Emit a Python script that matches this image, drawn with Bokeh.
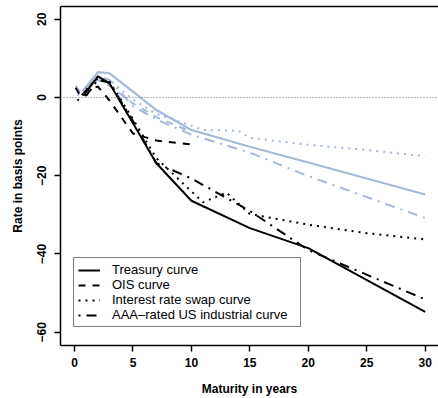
from bokeh.plotting import figure
from bokeh.models import LinearAxis, FixedTicker, Span, Legend, LegendItem, Range1d
from bokeh.embed import file_html
from bokeh.resources import INLINE

# ---- data ----
mat_tsy = [0.75, 2, 3, 5, 7, 10, 15, 20, 30]
tsy_black = [0.5, 5.4, 3.6, -6.6, -16.8, -26.4, -33.4, -38.5, -54.8]
tsy_blue = [1.8, 6.5, 6.2, 1.5, -3.2, -8.3, -12.6, -16.6, -24.8]

mat_ois = [0.1, 0.5, 1, 2, 3, 5, 7, 10]
ois_black = [2.5, 0.3, 1.8, 2.8, -0.8, -9.2, -11.0, -12.0]
ois_blue = [3.0, 1.0, 2.8, 4.5, 3.0, -1.5, -5.0, -8.8]

mat_swp_black = [0.25, 1, 2, 3, 5, 7, 10, 11, 13, 15, 20, 25, 30]
swp_black = [-0.8, 2.0, 5.0, 4.0, -5.5, -15.5, -24.0, -26.8, -24.3, -29.8, -32.5, -34.7, -36.3]
mat_swp_blue = [0.25, 1, 2, 3, 5, 7, 10, 11, 14, 15, 20, 25, 30]
swp_blue = [0.5, 2.5, 5.0, 4.5, -0.5, -4.2, -7.2, -8.3, -8.5, -10.3, -12.1, -13.4, -15.0]

mat_aaa = [0.25, 1, 2, 3, 5, 7, 10, 15, 20, 30]
aaa_black = [1.5, 0.5, 4.5, 3.8, -6.0, -16.8, -20.7, -29.0, -39.0, -51.6]
aaa_blue = [2.0, 2.5, 5.5, 4.5, -2.2, -5.6, -9.5, -14.1, -20.1, -30.8]

x_ticks = [0, 5, 10, 15, 20, 25, 30]
y_ticks = [-60, -40, -20, 0, 20]
y_tick_labels = {-60: "\u221260", -40: "\u221240", -20: "\u221220", 0: "0", 20: "20"}
legend_labels = ["Treasury curve", "OIS curve", "Interest rate swap curve",
                 "AAA\u2013rated US industrial curve"]

BLUE = "#a4b8d8"
FONT = "Liberation Sans"

p = figure(width=438, height=398, output_backend="svg", toolbar_location=None,
           x_range=Range1d(-1.2, 31.14), y_range=Range1d(-63.4, 23.27),
           min_border_left=60, min_border_right=0, min_border_top=6, min_border_bottom=52,
           x_axis_location=None, y_axis_location=None)
p.grid.visible = False
p.outline_line_color = None
p.background_fill_color = "white"
p.border_fill_color = "white"

# axes
xa = LinearAxis(ticker=FixedTicker(ticks=x_ticks), axis_label="Maturity in years")
ya = LinearAxis(ticker=FixedTicker(ticks=y_ticks), axis_label="Rate in basis points",
                major_label_overrides=y_tick_labels)
for ax in (xa, ya):
    ax.axis_line_color = "black"
    ax.axis_line_width = 1.5
    ax.major_tick_line_color = "black"
    ax.major_tick_line_width = 1.5
    ax.major_tick_out = 6
    ax.major_tick_in = 0
    ax.minor_tick_line_color = None
    ax.major_label_text_font = FONT
    ax.major_label_text_font_style = "bold"
    ax.major_label_text_font_size = "12px"
    ax.major_label_text_color = "black"
    ax.axis_label_text_font = FONT
    ax.axis_label_text_font_style = "bold"
    ax.axis_label_text_font_size = "12px"
    ax.axis_label_text_color = "black"
xa.major_label_standoff = 6
xa.axis_label_standoff = 12
ya.major_label_standoff = 8
ya.axis_label_standoff = 10
ya.major_label_orientation = "vertical"
p.add_layout(xa, "below")
p.add_layout(ya, "left")

top = LinearAxis(ticker=FixedTicker(ticks=[]), major_tick_out=0, major_tick_in=0,
                 major_label_standoff=0, major_label_text_font_size="0px",
                 minor_tick_line_color=None, axis_line_color="black", axis_line_width=1.5)
p.add_layout(top, "above")

# zero line
p.add_layout(Span(location=0, dimension="width", line_color="#777777",
                  line_width=1, line_dash="1 2"))

DASH = "7 7"
DOT = "2 5"
DOTDASH = "2 6 10 6"

# light blue series (behind)
p.line(mat_swp_blue, swp_blue, line_color=BLUE, line_width=2, line_dash=DOT)
p.line(mat_aaa, aaa_blue, line_color=BLUE, line_width=2, line_dash=DOTDASH)
p.line(mat_ois, ois_blue, line_color=BLUE, line_width=2, line_dash=DASH)
p.line(mat_tsy, tsy_blue, line_color=BLUE, line_width=2.2)

# black series
r_swp = p.line(mat_swp_black, swp_black, line_color="black", line_width=2, line_dash=DOT)
r_aaa = p.line(mat_aaa, aaa_black, line_color="black", line_width=2, line_dash=DOTDASH)
r_ois = p.line(mat_ois, ois_black, line_color="black", line_width=2, line_dash=DASH)
r_tsy = p.line(mat_tsy, tsy_black, line_color="black", line_width=2)

legend = Legend(items=[LegendItem(label=legend_labels[0], renderers=[r_tsy]),
                       LegendItem(label=legend_labels[1], renderers=[r_ois]),
                       LegendItem(label=legend_labels[2], renderers=[r_swp]),
                       LegendItem(label=legend_labels[3], renderers=[r_aaa])],
                location=(13, 18))
legend.label_text_font = FONT
legend.label_text_font_size = "13px"
legend.label_text_color = "black"
legend.glyph_width = 22
legend.glyph_height = 12
legend.label_height = 12
legend.label_width = 184
legend.label_standoff = 12
legend.spacing = 0
legend.padding = 4
legend.margin = 0
legend.border_line_color = "black"
legend.border_line_width = 1
legend.background_fill_color = "white"
legend.background_fill_alpha = 1
p.add_layout(legend, "center")

open("out.html", "w").write(file_html(p, INLINE))
